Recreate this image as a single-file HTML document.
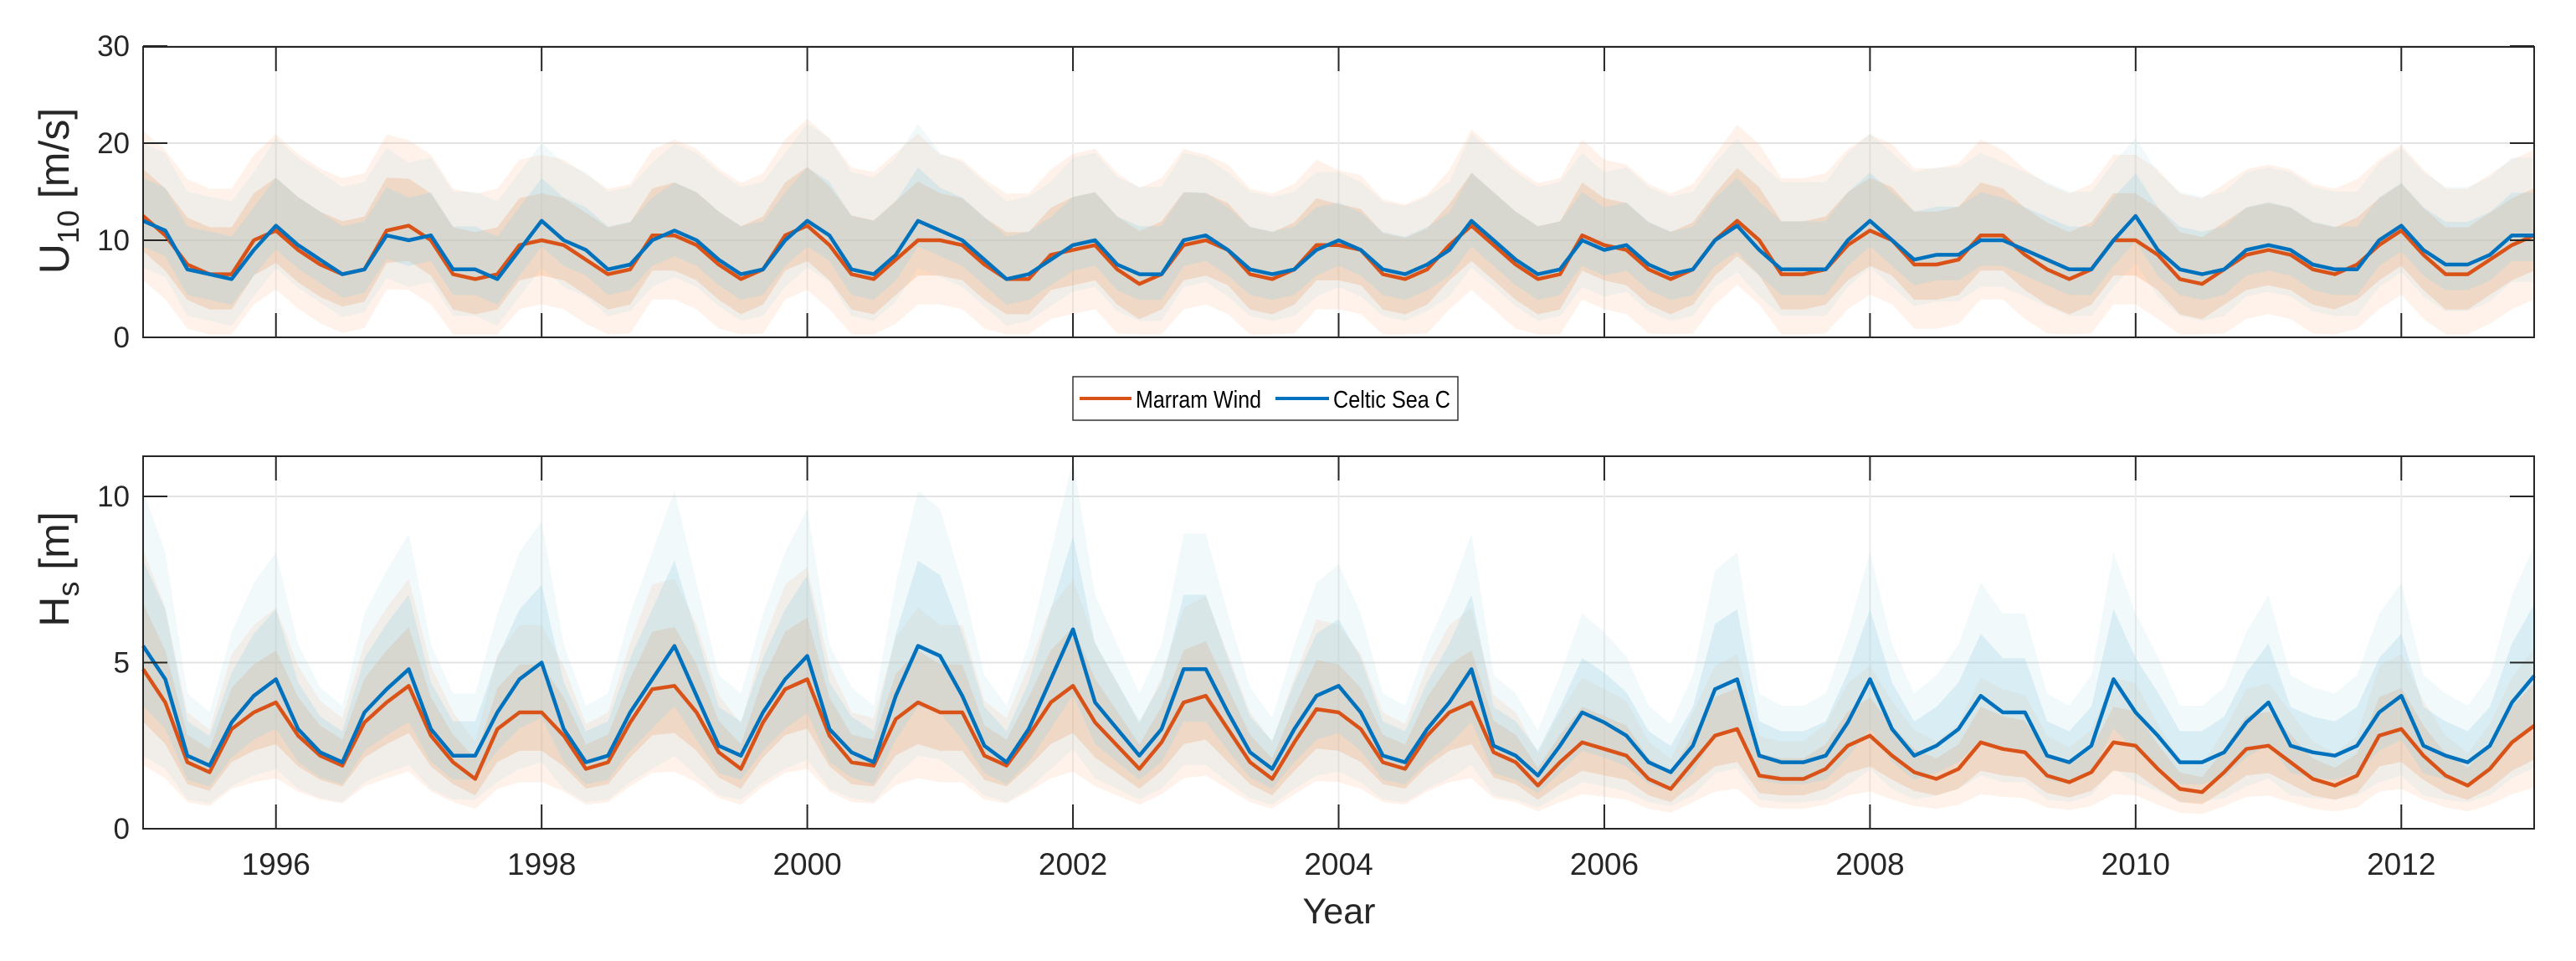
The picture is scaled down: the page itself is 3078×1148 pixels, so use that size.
<!DOCTYPE html>
<html><head><meta charset="utf-8">
<style>
html,body{margin:0;padding:0;background:#fff;}
svg{display:block;font-family:"Liberation Sans",Arial,sans-serif;}
</style></head>
<body>
<svg id="fig" width="3078" height="1148" viewBox="0 0 3078 1148" xmlns="http://www.w3.org/2000/svg">
<rect width="3078" height="1148" fill="#fff"/>
<g id="top"></g>
<g id="bot"></g>
<g>
  <rect x="1282" y="450" width="460" height="52" fill="#fff" stroke="#333" stroke-width="1.5"/>
  <line x1="1290" y1="476" x2="1352" y2="476" stroke="#D95319" stroke-width="4"/>
  <text x="1357" y="487" font-size="29" fill="#000" textLength="150" lengthAdjust="spacingAndGlyphs">Marram Wind</text>
  <line x1="1524" y1="476" x2="1588" y2="476" stroke="#0072BD" stroke-width="4"/>
  <text x="1593" y="487" font-size="29" fill="#000" textLength="140" lengthAdjust="spacingAndGlyphs">Celtic Sea C</text>
</g>
<text x="82" y="228" font-size="50" fill="#262626" text-anchor="middle" transform="rotate(-90 82 228)">U<tspan font-size="36" dy="12">10</tspan><tspan dy="-12"> [m/s]</tspan></text>
<text x="82" y="680" font-size="50" fill="#262626" text-anchor="middle" transform="rotate(-90 82 680)">H<tspan font-size="36" dy="12">s</tspan><tspan dy="-12"> [m]</tspan></text>
<text x="1600" y="1103" font-size="43" fill="#262626" text-anchor="middle">Year</text>
</svg>
<script>
// x range & ticks
const xMin = 1995, xMax = 2013;
const xTicks = [1996,1998,2000,2002,2004,2006,2008,2010,2012];
const topTicks = [0,10,20,30];
const botTicks = [0,5,10];
// smoothed series, 6 samples per year starting Jan 1995 (plus end point)
const windCeltic = [12,11,7,6.5,6,9, 11.5,9.5,8,6.5,7,10.5, 10,10.5,7,7,6,9, 12,10,9,7,7.5,10, 11,10,8,6.5,7,10,
 12,10.5,7,6.5,8.5,12, 11,10,8,6,6.5,8, 9.5,10,7.5,6.5,6.5,10, 10.5,9,7,6.5,7,9, 10,9,7,6.5,7.5,9,
 12,10,8,6.5,7,10, 9,9.5,7.5,6.5,7,10, 11.5,9,7,7,7,10, 12,10,8,8.5,8.5,10, 10,9,8,7,7,10,
 12.5,9,7,6.5,7,9, 9.5,9,7.5,7,7,10, 11.5,9,7.5,7.5,8.5,10.5, 10.5];
const windMarram = [12.5,10.5,7.5,6.5,6.5,10, 11,9,7.5,6.5,7,11, 11.5,10,6.5,6,6.5,9.5, 10,9.5,8,6.5,7,10.5, 10.5,9.5,7.5,6,7,10.5,
 11.5,9.5,6.5,6,8,10, 10,9.5,7.5,6,6,8.5, 9,9.5,7,5.5,6.5,9.5, 10,9,6.5,6,7,9.5, 9.5,9,6.5,6,7,9.5,
 11.5,9.5,7.5,6,6.5,10.5, 9.5,9,7,6,7,10, 12,10,6.5,6.5,7,9.5, 11,10,7.5,7.5,8,10.5, 10.5,8.5,7,6,7,10,
 10,8.5,6,5.5,7,8.5, 9,8.5,7,6.5,7.5,9.5, 11,8.5,6.5,6.5,8,9.5, 10.5];
const hsCeltic = [5.5,4.5,2.2,1.9,3.2,4, 4.5,3,2.3,2,3.5,4.2, 4.8,3,2.2,2.2,3.5,4.5, 5,3,2,2.2,3.5,4.5, 5.5,4,2.5,2.2,3.5,4.5,
 5.2,3,2.3,2,4,5.5, 5.2,4,2.5,2,3,4.5, 6,3.8,3,2.2,3,4.8, 4.8,3.5,2.3,1.8,3,4, 4.3,3.5,2.2,2,3,3.8,
 4.8,2.5,2.2,1.6,2.5,3.5, 3.2,2.8,2,1.7,2.5,4.2, 4.5,2.2,2,2,2.2,3.2, 4.5,3,2.2,2.5,3,4, 3.5,3.5,2.2,2,2.5,4.5,
 3.5,2.8,2,2,2.3,3.2, 3.8,2.5,2.3,2.2,2.5,3.5, 4,2.5,2.2,2,2.5,3.8, 4.6];
const hsMarram = [4.8,3.8,2,1.7,3,3.5, 3.8,2.8,2.2,1.9,3.2,3.8, 4.3,2.8,2,1.5,3,3.5, 3.5,2.8,1.8,2,3.2,4.2, 4.3,3.5,2.3,1.8,3.2,4.2,
 4.5,2.8,2,1.9,3.3,3.8, 3.5,3.5,2.2,1.9,2.8,3.8, 4.3,3.2,2.5,1.8,2.6,3.8, 4,3,2,1.5,2.6,3.6, 3.5,3,2,1.8,2.8,3.5,
 3.8,2.3,2,1.3,2,2.6, 2.4,2.2,1.5,1.2,2,2.8, 3,1.6,1.5,1.5,1.8,2.5, 2.8,2.2,1.7,1.5,1.8,2.6, 2.4,2.3,1.6,1.4,1.7,2.6,
 2.5,1.8,1.2,1.1,1.7,2.4, 2.5,2,1.5,1.3,1.6,2.8, 3,2.2,1.6,1.3,1.8,2.6, 3.1];
// raw-data spread (below / above the smoothed curve), one value per year
const windSpreadLo = [6,5.5,6,6,6,6,6,6,6,6,6,6,6,6,6,6,6,6];
const windSpreadHi = [8,9,8,8,9,10,8,9,8,7,9,8,9,9,8,8,8,8];

const NS='http://www.w3.org/2000/svg';
function el(parent,tag,attrs){const e=document.createElementNS(NS,tag);for(const k in attrs)e.setAttribute(k,attrs[k]);parent.appendChild(e);return e;}

function panel(g, y0px, yTopPx, yMaxVal, ticks, s1, s2, isWave, showX){
  const L=171,R=3028;
  const xs=v=>L+(v-xMin)/(xMax-xMin)*(R-L);
  const yPerUnit=(y0px - (isWave?593:171))/(isWave?10:20);
  const ys=v=>y0px - v*yPerUnit;
  ticks.forEach(t=>{ if(t>0){const ln=el(g,'line',{x1:L,x2:R,y1:ys(t),y2:ys(t),stroke:'#e3e3e3','stroke-width':2});
    
    }});
  xTicks.forEach(t=>{const ln=el(g,'line',{x1:xs(t),x2:xs(t),y1:yTopPx,y2:y0px,stroke:'#ececec','stroke-width':2});
    
    });
  const series=[[s2,'#f9a56b','#D95319','marram'],[s1,'#a6d6e6','#0072BD','celtic']];
  const n=s1.length;
  const xAt=i=>xs(xMin+i/6);
  series.forEach(([s,light,dark,nm])=>{
    for(const [f,op] of [[1,0.14],[0.55,0.32]]){
      let up=[],dn=[];
      for(let i=0;i<n;i++){
        const yr=Math.min(17,Math.floor(i/6));
        let hi,lo;
        if(isWave){hi=s[i]+s[i]*(nm==='celtic'?0.85:0.75)*f; lo=Math.max(0.15,s[i]-s[i]*0.6*f);}
        else{hi=s[i]+windSpreadHi[yr]*f*(nm==='marram'?1.1:1); lo=Math.max(0.3,s[i]-windSpreadLo[yr]*f*(nm==='marram'?1.1:0.8));}
        hi=Math.min(hi,yMaxVal);
        up.push(xAt(i).toFixed(1)+','+ys(hi).toFixed(1));
        dn.unshift(xAt(i).toFixed(1)+','+ys(lo).toFixed(1));
      }
      const p=el(g,'polygon',{points:up.concat(dn).join(' '),fill:light,'fill-opacity':op});
      
      
    }
  });
  series.forEach(([s,light,dark,nm])=>{
    const pts=s.map((v,i)=>xAt(i).toFixed(1)+','+ys(v).toFixed(1)).join(' ');
    const pl=el(g,'polyline',{points:pts,fill:'none',stroke:dark,'stroke-width':4.5,'stroke-linejoin':'round'});
    
    
  });
  const b=el(g,'rect',{x:L,y:yTopPx,width:R-L,height:y0px-yTopPx,fill:'none',stroke:'#262626','stroke-width':2});
  
  
  ticks.forEach(t=>{
    el(g,'line',{x1:L,x2:L+29,y1:ys(t),y2:ys(t),stroke:'#262626','stroke-width':2});
    el(g,'line',{x1:R,x2:R-29,y1:ys(t),y2:ys(t),stroke:'#262626','stroke-width':2});
    const tx=el(g,'text',{x:L-16,y:ys(t)+12,'font-size':35,fill:'#262626','text-anchor':'end'});
    tx.textContent=t;
    
    
  });
  xTicks.forEach(t=>{
    el(g,'line',{x1:xs(t),x2:xs(t),y1:y0px,y2:y0px-29,stroke:'#262626','stroke-width':2});
    el(g,'line',{x1:xs(t),x2:xs(t),y1:yTopPx,y2:yTopPx+29,stroke:'#262626','stroke-width':2});
    if(showX){
      const tx=el(g,'text',{x:xs(t),y:y0px+55,'font-size':37,fill:'#262626','text-anchor':'middle'});
      tx.textContent=t;
      
      
    }
  });
}
panel(document.getElementById('top'),403,56,30,topTicks,windCeltic,windMarram,false,false);
panel(document.getElementById('bot'),990,545,11.2,botTicks,hsCeltic,hsMarram,true,true);
</script>
</body></html>
